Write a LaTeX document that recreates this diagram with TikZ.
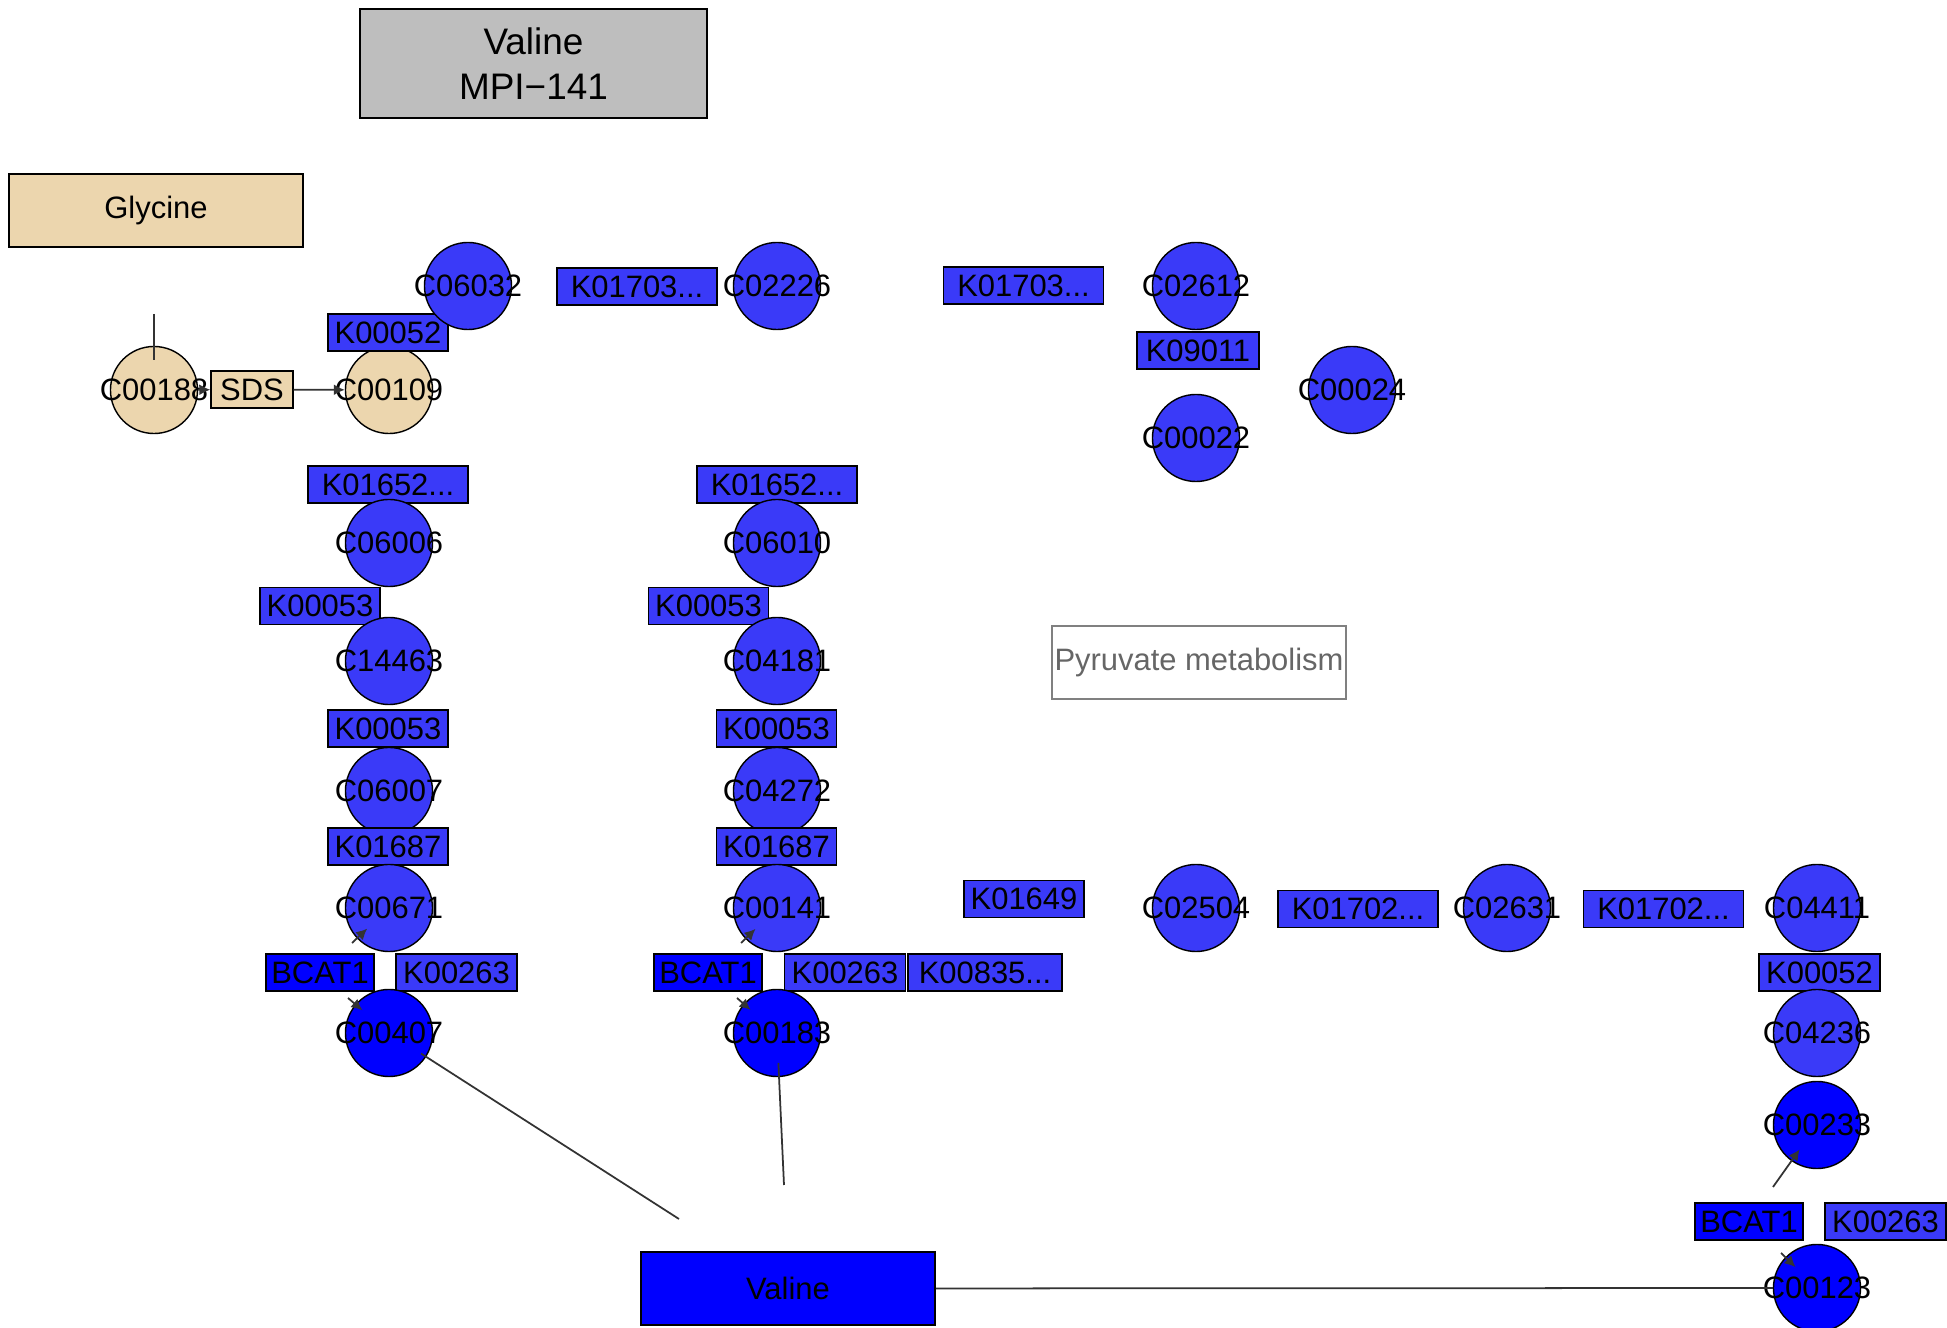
\documentclass[tikz,border=0pt]{standalone}
\usepackage{fontspec}
\setmainfont{Liberation Sans}
\usepackage{tikz}
\usetikzlibrary{arrows.meta, calc, positioning}

\definecolor{keggblue}{RGB}{58,58,248}
\definecolor{fullblue}{RGB}{0,0,255}
\definecolor{wheatbox}{RGB}{236,214,174}
\definecolor{titlegray}{RGB}{190,190,190}
\definecolor{edgegray}{RGB}{51,51,51}

\newcommand{\kfont}{\fontsize{8.8}{10}\selectfont}

\tikzset{
  cpd/.style={circle, draw=black, line width=0.4pt, fill=keggblue, minimum size=0.87cm, inner sep=0pt,
    label={[font=\kfont, inner sep=0pt]center:#1}},
  cpdfull/.style={cpd=#1, fill=fullblue},
  cpdwheat/.style={cpd=#1, fill=wheatbox},
  gene/.style={rectangle, draw=black, line width=0.4pt, fill=keggblue, minimum width=1.2cm, minimum height=0.37cm, inner sep=0pt, font=\kfont},
  genefull/.style={gene, fill=fullblue},
  bigbox/.style={rectangle, draw=black, line width=0.5pt, minimum width=2.94cm, minimum height=0.73cm, inner sep=0pt, font=\kfont},
  edge/.style={draw=edgegray, line width=0.5pt},
  arrow/.style={edge, -{Latex[length=1.1mm,width=1.1mm]}}
}

\begin{document}
\begin{tikzpicture}[x=0.01cm, y=-0.01cm]
    \useasboundingbox (0,0) rectangle (1947,1328);

    % Titel und Legenden
    \node[bigbox, fill=titlegray, minimum width=3.47cm, minimum height=1.09cm, align=center,
          font=\fontsize{10.5}{13}\selectfont] (title) at (533.5,63.5) {Valine\\MPI−141};
    \node[bigbox, fill=wheatbox] (glycine) at (156,210.5) {Glycine};
    \node[bigbox, fill=white, draw=gray, text=black!60] (pyruvate) at (1199,662.5) {Pyruvate metabolism};
    \node[bigbox, fill=fullblue] (valine) at (788,1288.5) {Valine};

    % Glycin-Teil
    \node[cpdwheat=C00188] (C00188) at (154,390) {};
    \node[gene, fill=wheatbox, minimum width=0.82cm] (SDS) at (252,389.5) {SDS};
    \node[cpdwheat=C00109] (C00109) at (389,390) {};
    \node[gene] (K00052a) at (388,332.5) {K00052};

    % obere Reihe
    \node[cpd=C06032] (C06032) at (468,286) {};
    \node[gene, minimum width=1.6cm] (K01703a) at (637,286.5) {K01703...};
    \node[cpd=C02226] (C02226) at (777,286) {};
    \node[gene, minimum width=1.6cm] (K01703b) at (1023.5,285.5) {K01703...};
    \node[cpd=C02612] (C02612) at (1196,286) {};
    \node[gene, minimum width=1.22cm] (K09011) at (1198,350.5) {K09011};
    \node[cpd=C00022] (C00022) at (1196,438) {};
    \node[cpd=C00024] (C00024) at (1352,390) {};

    % linke Spalte (Isoleucin)
    \node[gene, minimum width=1.6cm] (K01652a) at (388,484.5) {K01652...};
    \node[cpd=C06006] (C06006) at (389,543) {};
    \node[gene] (K00053a) at (320,606) {K00053};
    \node[cpd=C14463] (C14463) at (389,661) {};
    \node[gene] (K00053b) at (388,728.5) {K00053};
    \node[cpd=C06007] (C06007) at (389,791) {};
    \node[gene] (K01687a) at (388,846.5) {K01687};
    \node[cpd=C00671] (C00671) at (389,908) {};
    \node[genefull, minimum width=1.08cm] (BCAT1a) at (320,972.5) {BCAT1};
    \node[gene, minimum width=1.21cm] (K00263a) at (456.5,972.5) {K00263};
    \node[cpdfull=C00407] (C00407) at (389,1033) {};

    % mittlere Spalte (Valin)
    \node[gene, minimum width=1.6cm] (K01652b) at (777,484.5) {K01652...};
    \node[cpd=C06010] (C06010) at (777,543) {};
    \node[gene] (K00053c) at (708.5,606) {K00053};
    \node[cpd=C04181] (C04181) at (777,661) {};
    \node[gene] (K00053d) at (776.5,728.5) {K00053};
    \node[cpd=C04272] (C04272) at (777,791) {};
    \node[gene] (K01687b) at (776.5,846.5) {K01687};
    \node[cpd=C00141] (C00141) at (777,908) {};
    \node[genefull, minimum width=1.08cm] (BCAT1b) at (708,972.5) {BCAT1};
    \node[gene, minimum width=1.21cm] (K00263b) at (845,972.5) {K00263};
    \node[gene, minimum width=1.54cm] (K00835) at (985,972.5) {K00835...};
    \node[cpdfull=C00183] (C00183) at (777,1033) {};

    % rechte Reihe (Leucin)
    \node[gene] (K01649) at (1024,899) {K01649};
    \node[cpd=C02504] (C02504) at (1196,908) {};
    \node[gene, minimum width=1.6cm] (K01702a) at (1358,909) {K01702...};
    \node[cpd=C02631] (C02631) at (1507,908) {};
    \node[gene, minimum width=1.6cm] (K01702b) at (1663.5,909) {K01702...};
    \node[cpd=C04411] (C04411) at (1817,908) {};
    \node[gene, minimum width=1.21cm] (K00052b) at (1819.5,972.5) {K00052};
    \node[cpd=C04236] (C04236) at (1817,1033) {};
    \node[cpdfull=C00233] (C00233) at (1817,1125) {};
    \node[genefull, minimum width=1.08cm] (BCAT1c) at (1749,1221.5) {BCAT1};
    \node[gene, minimum width=1.21cm] (K00263c) at (1885.5,1221.5) {K00263};
    \node[cpdfull=C00123] (C00123) at (1817,1288) {};

    % Verbindungen
    \coordinate (g0) at (154,314);
    \draw[edge, shorten >=0.3cm] (g0) -- (C00188.center);
    \draw[arrow] (C00188) -- (SDS);
    \draw[arrow] (SDS) -- (C00109);

    \coordinate (t1) at (352,943);
    \coordinate (t2) at (348,998);
    \draw[arrow, shorten >=0.3cm] (t1) -- (C00671.center);
    \draw[arrow, shorten >=0.35cm] (t2) -- (C00407.center);

    \coordinate (t3) at (741,943);
    \coordinate (t4) at (737,998);
    \draw[arrow, shorten >=0.3cm] (t3) -- (C00141.center);
    \draw[arrow, shorten >=0.35cm] (t4) -- (C00183.center);

    \coordinate (t5) at (1773,1187);
    \coordinate (t6) at (1781,1253);
    \draw[arrow, shorten >=0.3cm] (t5) -- (C00233.center);
    \draw[arrow, shorten >=0.3cm] (t6) -- (C00123.center);

    \coordinate (v1) at (679,1219);
    \coordinate (v2) at (784,1185);
    \draw[edge, shorten <=0.38cm] (C00407.center) -- (v1);
    \draw[edge, shorten <=0.3cm] (C00183.center) -- (v2);
    \draw[edge] (valine) -- (C00123);

\end{tikzpicture}
\end{document}
